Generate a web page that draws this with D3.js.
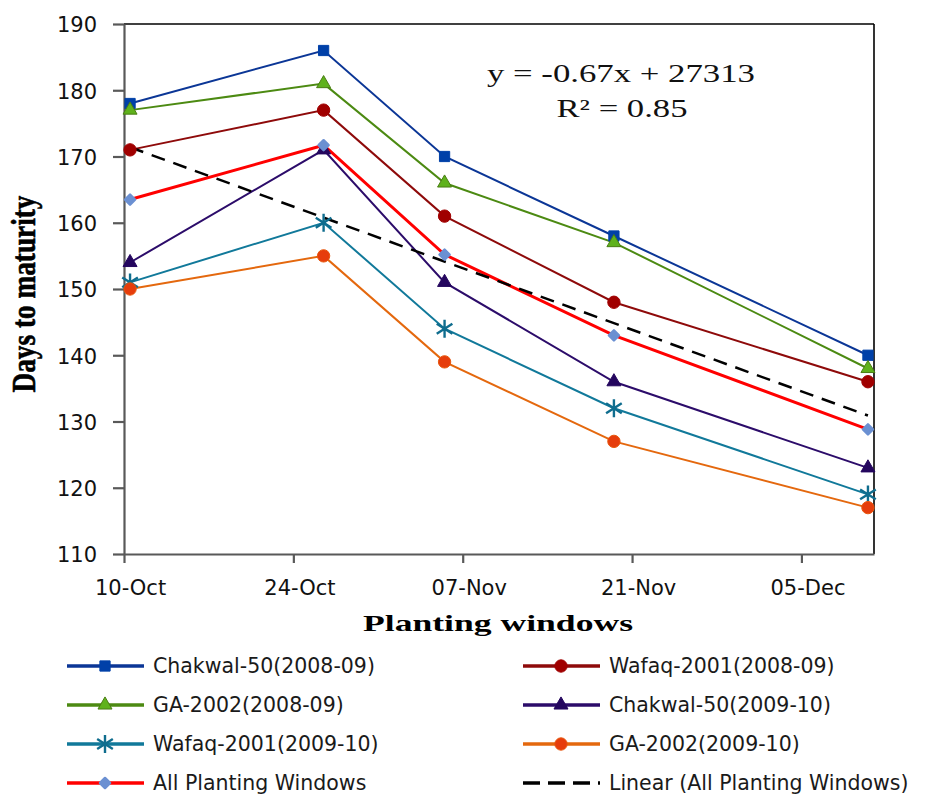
<!DOCTYPE html>
<html>
<head>
<meta charset="utf-8">
<script src="https://cdn.jsdelivr.net/npm/d3@7"></script>
<style>
  body { margin:0; background:#fff; }
</style>
</head>
<body>
<div id="plot_maturity_here"></div>
<script>
// Days to maturity vs planting window
// dates are plotted in the middle of their day (Excel date axis, between tick marks)

var plantDates = ["2008-10-10", "2008-10-26", "2008-11-05", "2008-11-19", "2008-12-10"]
var tickDates  = ["2008-10-10", "2008-10-24", "2008-11-07", "2008-11-21", "2008-12-05"]
var tickLabels = ["10-Oct", "24-Oct", "07-Nov", "21-Nov", "05-Dec"]
var axisEnd    = "2008-12-11"
var yTicks     = [110, 120, 130, 140, 150, 160, 170, 180, 190]

var chakwal_0809 = [178, 186, 170, 158, 140]
var wafaq_0809   = [171, 177, 161, 148, 136]
var ga_0809      = [177, 181, 166, 157, 138]
var chakwal_0910 = [154, 171, 151, 136, 123]
var wafaq_0910   = [151, 160, 144, 132, 119]
var ga_0910      = [150, 155, 139, 127, 117]
var all_windows  = [163.5, 171.7, 155.2, 143.0, 128.8]
var trend_ends   = [171.4, 130.9]   // linear trend at first and last planting date

var seriesNames = ["Chakwal-50(2008-09)", "Wafaq-2001(2008-09)", "GA-2002(2008-09)",
                   "Chakwal-50(2009-10)", "Wafaq-2001(2009-10)", "GA-2002(2009-10)",
                   "All Planting Windows", "Linear (All Planting Windows)"]
var eqLine1 = "y = -0.67x + 27313"
var eqLine2 = "R\u00B2 = 0.85"

var margin = {top: 24, right: 58, bottom: 243, left: 124}
var width = 932 - margin.left - margin.right
var height = 797 - margin.top - margin.bottom

var parse = d3.timeParse("%Y-%m-%d")
var mid = function(s) { return d3.timeHour.offset(parse(s), 12) }

// style per series (same order as seriesNames)
var series = [
  {name: seriesNames[0], vals: chakwal_0809, line: "#0b3696", mark: "square",   fill: "#0040a8", edge: "#0040a8", w: 2},
  {name: seriesNames[1], vals: wafaq_0809,   line: "#8e0a0a", mark: "circle",   fill: "#a00000", edge: "#a00000", w: 2},
  {name: seriesNames[2], vals: ga_0809,      line: "#4c8a12", mark: "triangle", fill: "#5fb21c", edge: "#4a7d14", w: 2},
  {name: seriesNames[3], vals: chakwal_0910, line: "#2c0c6a", mark: "triangle", fill: "#24065e", edge: "#24065e", w: 2},
  {name: seriesNames[4], vals: wafaq_0910,   line: "#11799a", mark: "star",     fill: "none",    edge: "#0f6d8e", w: 2},
  {name: seriesNames[5], vals: ga_0910,      line: "#e4680e", mark: "circle",   fill: "#e63d0c", edge: "#e8560c", w: 2},
  {name: seriesNames[6], vals: all_windows,  line: "#ff0000", mark: "diamond",  fill: "#6b90d2", edge: "#6b90d2", w: 3}
]

var svg = d3.select("#plot_maturity_here")
  .append("svg")
  .attr("width", 932)
  .attr("height", 797)
  .style("background", "#fff")
  .append("g")
  .attr("transform", "translate(" + margin.left + "," + margin.top + ")");

var x = d3.scaleTime()
  .domain([parse(tickDates[0]), parse(axisEnd)])
  .range([0, width])
var y = d3.scaleLinear()
  .domain([110, 190])
  .range([height, 0])

var halfDay = x(mid(tickDates[0])) - x(parse(tickDates[0]))

// frame top / right
svg.append("line")
  .attr("x1", 0).attr("x2", width).attr("y1", 0).attr("y2", 0)
  .attr("stroke", "#000").attr("stroke-width", 1.6)
svg.append("line")
  .attr("x1", width).attr("x2", width).attr("y1", 0).attr("y2", height)
  .attr("stroke", "#000").attr("stroke-width", 1.6)

// y axis
var yAxis = svg.append("g")
  .call(d3.axisLeft(y).tickValues(yTicks).tickSize(11).tickSizeOuter(0).tickPadding(16))
yAxis.selectAll("path, line").attr("stroke", "#595959").attr("stroke-width", 2.2)
yAxis.selectAll("text")
  .attr("dy", "0.38em")
  .style("font-family", "DejaVu Sans")
  .style("font-size", "21px")
  .style("fill", "#111")

// x axis
var xAxis = svg.append("g")
  .attr("transform", "translate(0," + height + ")")
  .call(d3.axisBottom(x)
        .tickValues(tickDates.map(parse))
        .tickSize(9).tickSizeOuter(0).tickPadding(17)
        .tickFormat(function(d, i) { return tickLabels[i] }))
xAxis.selectAll("path, line").attr("stroke", "#595959").attr("stroke-width", 2.2)
xAxis.selectAll("text")
  .attr("x", halfDay)
  .style("font-family", "DejaVu Sans")
  .style("font-size", "21px")
  .style("fill", "#111")

// axis titles
svg.append("text")
  .attr("text-anchor", "middle")
  .attr("transform", "translate(" + (35 - margin.left) + "," + (height / 2 + 5) + ")rotate(-90)")
  .attr("textLength", 197)
  .attr("lengthAdjust", "spacingAndGlyphs")
  .style("font-family", "Liberation Serif")
  .style("font-weight", "bold")
  .style("font-size", "33px")
  .style("stroke", "#000")
  .style("stroke-width", 0.6)
  .text("Days to maturity");

svg.append("text")
  .attr("text-anchor", "middle")
  .attr("x", width / 2 - 1)
  .attr("y", height + 77)
  .attr("textLength", 270)
  .attr("lengthAdjust", "spacingAndGlyphs")
  .style("font-family", "Liberation Serif")
  .style("font-weight", "bold")
  .style("font-size", "24px")
  .text("Planting windows");

// markers
var markerPath = function(kind) {
  if (kind == "star") {
    var r = 9
    return "M0," + (-r) + "L0," + r +
           "M" + (-r * 0.87) + "," + (-r * 0.55) + "L" + (r * 0.87) + "," + (r * 0.55) +
           "M" + (-r * 0.87) + "," + (r * 0.55) + "L" + (r * 0.87) + "," + (-r * 0.55)
  }
  if (kind == "diamond") {
    var s = 5
    return "M0," + (-s) + "L" + s + ",0L0," + s + "L" + (-s) + ",0Z"
  }
  var sym = {square: d3.symbolSquare, circle: d3.symbolCircle, triangle: d3.symbolTriangle}[kind]
  var area = {square: 105, circle: 120, triangle: 85}[kind]
  return d3.symbol().type(sym).size(area)()
}
var drawMarker = function(sel, s) {
  sel.append("path")
    .attr("d", markerPath(s.mark))
    .attr("fill", s.fill)
    .attr("stroke", s.edge)
    .attr("stroke-width", s.mark == "star" ? 2.4 : (s.mark == "diamond" ? 2.5 : 1))
    .attr("stroke-linejoin", "round")
}

var line = d3.line()
  .x(function(d, i) { return x(mid(plantDates[i])) })
  .y(function(d) { return y(d) })

// series lines
series.forEach(function(s) {
  svg.append("path")
    .datum(s.vals)
    .attr("fill", "none")
    .attr("stroke", s.line)
    .attr("stroke-width", s.w)
    .attr("d", line)
})

// linear trend of all planting windows
svg.append("line")
  .attr("x1", x(mid(plantDates[0])))
  .attr("y1", y(trend_ends[0]))
  .attr("x2", x(mid(plantDates[plantDates.length - 1])))
  .attr("y2", y(trend_ends[1]))
  .attr("stroke", "#000")
  .attr("stroke-width", 2.5)
  .attr("stroke-dasharray", "14,9")

// markers on top
series.forEach(function(s) {
  svg.selectAll("mymarker")
    .data(s.vals)
    .enter()
    .append("g")
      .attr("transform", function(d, i) { return "translate(" + x(mid(plantDates[i])) + "," + y(d) + ")" })
      .each(function() { drawMarker(d3.select(this), s) })
})

// trend equation
svg.append("text")
  .attr("text-anchor", "middle")
  .attr("x", 621 - margin.left)
  .attr("y", 82 - margin.top)
  .attr("textLength", 268)
  .attr("lengthAdjust", "spacingAndGlyphs")
  .style("font-family", "Liberation Serif")
  .style("font-size", "25px")
  .style("fill", "#111")
  .text(eqLine1);
svg.append("text")
  .attr("text-anchor", "middle")
  .attr("x", 622 - margin.left)
  .attr("y", 117 - margin.top)
  .attr("textLength", 131)
  .attr("lengthAdjust", "spacingAndGlyphs")
  .style("font-family", "Liberation Serif")
  .style("font-size", "25px")
  .style("fill", "#111")
  .text(eqLine2);

// legend, two columns
var legendItems = series.concat([{name: seriesNames[7], line: "#000", mark: "none", w: 3}])
var legend = svg.selectAll("mylegend")
  .data(legendItems)
  .enter()
  .append("g")
    .attr("transform", function(d, i) {
      var lx = (i % 2 == 0) ? 67 : 523
      var ly = 666 + Math.floor(i / 2) * 39
      return "translate(" + (lx - margin.left) + "," + (ly - margin.top) + ")"
    })
legend.append("line")
  .attr("x1", 0).attr("x2", 77).attr("y1", 0).attr("y2", 0)
  .attr("stroke", function(d) { return d.line })
  .attr("stroke-width", 3.5)
  .attr("stroke-dasharray", function(d) { return d.mark == "none" ? "17,8" : null })
legend.each(function(d) {
  if (d.mark == "none") return
  var g = d3.select(this).append("g").attr("transform", "translate(38,0)")
  drawMarker(g, d)
})
legend.append("text")
  .attr("x", 86)
  .attr("y", 7)
  .style("font-family", "DejaVu Sans")
  .style("font-size", "20.5px")
  .style("fill", "#1a1a1a")
  .text(function(d) { return d.name })
</script>
</body>
</html>
